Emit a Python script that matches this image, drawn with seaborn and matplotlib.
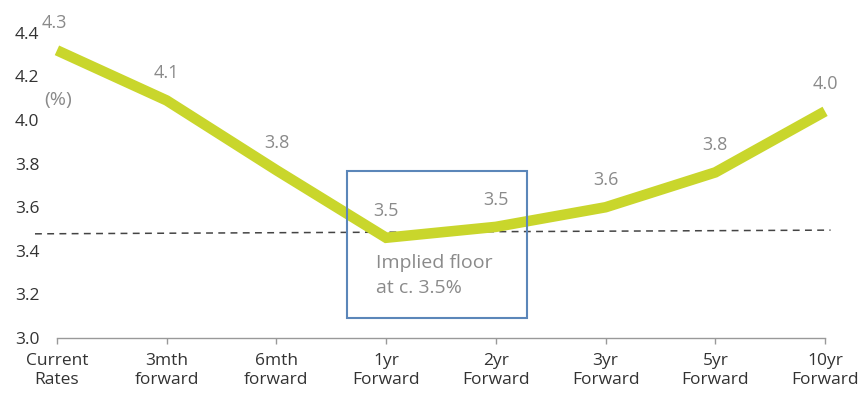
import matplotlib
matplotlib.use("Agg")
import matplotlib.pyplot as plt
import seaborn as sns
import pandas as pd
from matplotlib.patches import Rectangle

categories = ["Current\nRates", "3mth\nforward", "6mth\nforward", "1yr\nForward",
              "2yr\nForward", "3yr\nForward", "5yr\nForward", "10yr\nForward"]
rates = [4.32, 4.09, 3.77, 3.46, 3.51, 3.60, 3.76, 4.04]
floor_x = [-0.2, 7.05]
floor_y = [3.478, 3.495]
y_ticks = [3.0, 3.2, 3.4, 3.6, 3.8, 4.0, 4.2, 4.4]

sns.set_theme(style="white")
plt.rcParams['font.family'] = ['Open Sans', 'DejaVu Sans']

fig = plt.figure(figsize=(8.61, 3.96), dpi=100)
ax = fig.add_axes([29.5 / 861, 58 / 396, (858 - 29.5) / 861, (338 - 22) / 396])

df = pd.DataFrame({"x": range(len(categories)), "rate": rates})
sns.lineplot(data=df, x="x", y="rate", ax=ax, color="#C9D62C", linewidth=7.6,
             solid_capstyle="butt", solid_joinstyle="miter", zorder=3)
ax.plot(floor_x, floor_y, color="#444444", linewidth=1.1, dashes=(4.5, 3.5), zorder=2)

# value labels
for i, v in enumerate(rates):
    dx = -3 if i == 0 else 0
    ax.annotate(f"{v:.1f}", (i, v), xytext=(dx, 27), textcoords="offset pixels",
                ha="center", va="center", fontsize=13, color="#8a8a8a")

ax.text(0.01, 4.09, "(%)", ha="center", va="center", fontsize=14, color="#8a8a8a")

# box annotation
ax.add_patch(Rectangle((2.64, 3.092), 1.64, 0.674, fill=False, edgecolor="#5B86B9",
                       linewidth=1.5, zorder=4))
ax.text(2.91, 3.285, "Implied floor\nat c. 3.5%", ha="left", va="center", fontsize=14,
        color="#8a8a8a", linespacing=1.5)

ax.set_xlim(-0.25, 7.3)
ax.set_ylim(3.0, 4.45)
ax.set_yticks(y_ticks)
ax.set_yticklabels([f"{t:.1f}" for t in y_ticks])
ax.set_xticks(range(len(categories)))
ax.set_xticklabels(categories, linespacing=1.25)
ax.set_xlabel("")
ax.set_ylabel("")
for s in ["top", "right", "left"]:
    ax.spines[s].set_visible(False)
ax.spines["bottom"].set_bounds(0, 7)
ax.spines["bottom"].set_color("#999999")
ax.spines["bottom"].set_linewidth(1.0)
ax.tick_params(axis="x", direction="out", length=4, color="#999999", width=1.0,
               labelsize=12.5, labelcolor="#333333", pad=7, bottom=True)
ax.tick_params(axis="y", length=0, labelsize=12.5, labelcolor="#333333", pad=-7)
ax.grid(False)

fig.savefig("out.png", dpi=100)
